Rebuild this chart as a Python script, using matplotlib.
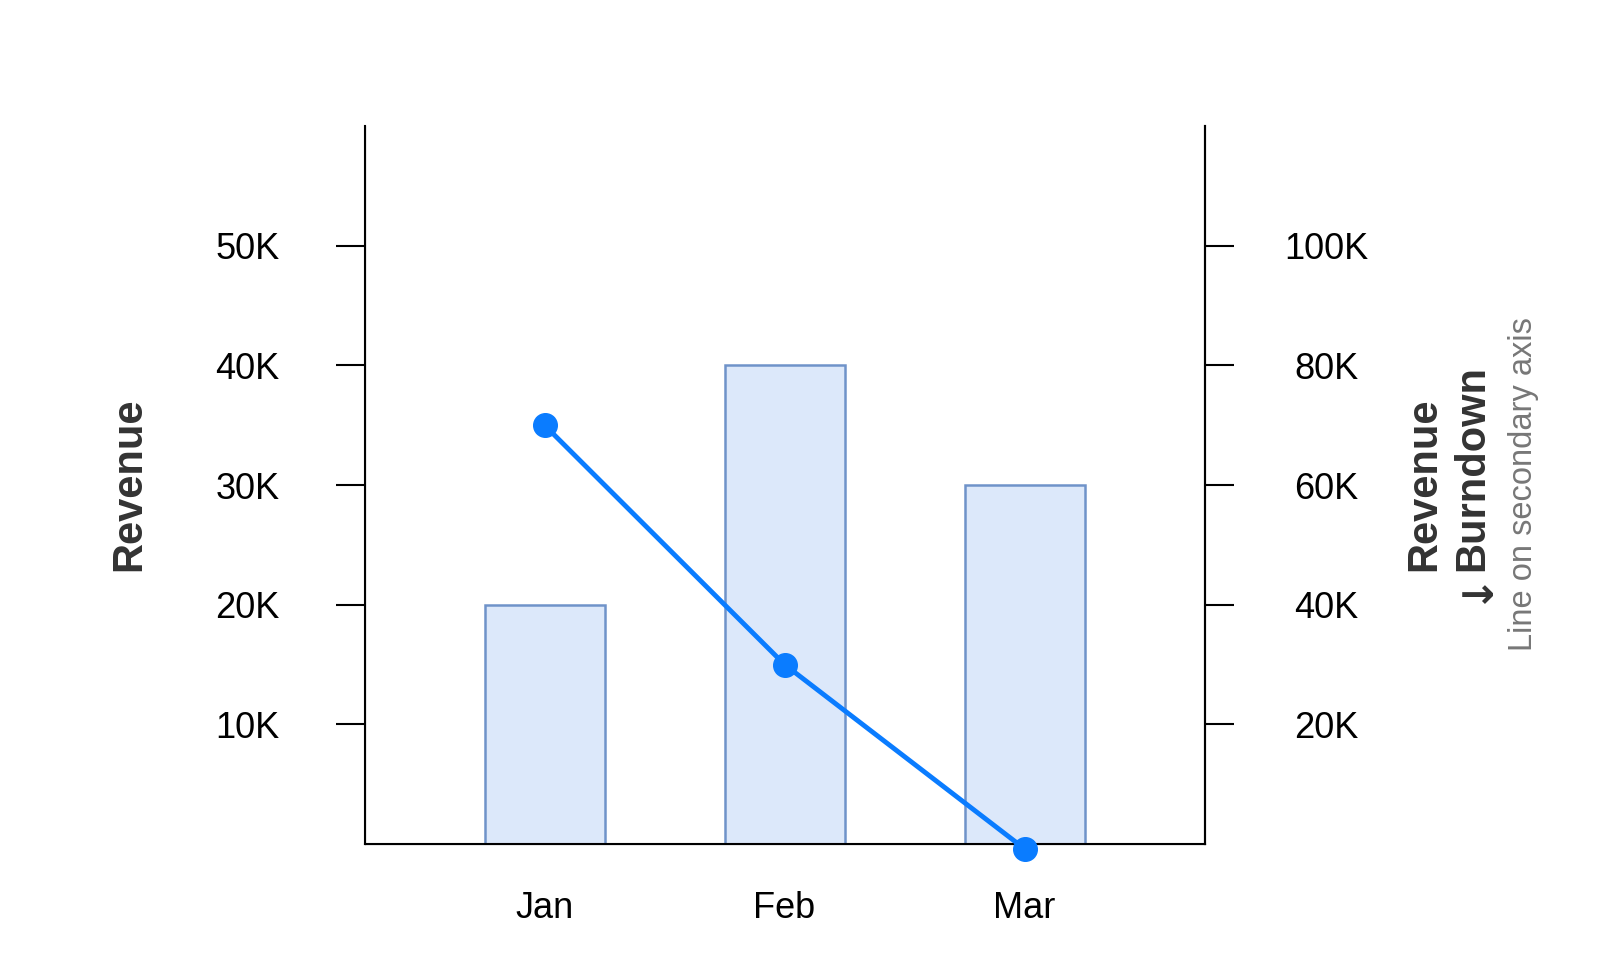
import matplotlib
matplotlib.use("Agg")
import matplotlib.pyplot as plt
from matplotlib.ticker import FuncFormatter

plt.rcParams["font.family"] = ["Liberation Sans", "DejaVu Sans"]

# data
months = ["Jan", "Feb", "Mar"]
revenue = [20000, 40000, 30000]          # bars, left axis
burndown = [70000, 30000, -800]          # line, right axis
left_ticks = [10000, 20000, 30000, 40000, 50000]
right_ticks = [20000, 40000, 60000, 80000, 100000]

BAR_FILL = "#dce8fa"
BAR_EDGE = "#6f93c9"
LINE_COLOR = "#0a7cff"
TITLE_COLOR = "#333333"


def k_fmt(v, _pos):
    return f"{int(v / 1000)}K"


fig = plt.figure(figsize=(16.24, 9.74), dpi=100)
ax = fig.add_axes([0.2245, 0.1335, 0.5172, 0.737])
x = list(range(len(months)))

ax.bar(x, revenue, width=0.5, color=BAR_FILL, edgecolor=BAR_EDGE, linewidth=1.8, zorder=2)
ax.set_xlim(-0.75, 2.75)
ax.set_ylim(0, 60000)
ax.set_xticks(x)
ax.set_xticklabels(months)
ax.set_yticks(left_ticks)
ax.yaxis.set_major_formatter(FuncFormatter(k_fmt))
ax.tick_params(axis="x", length=0, pad=34, labelsize=26)
ax.tick_params(axis="y", length=21, width=1.5, pad=40, labelsize=26)
ax.spines["top"].set_visible(False)
for side in ["left", "right", "bottom"]:
    ax.spines[side].set_linewidth(1.5)

# secondary axis for the burndown line
ax2 = ax.twinx()
ax2.plot(x, burndown, color=LINE_COLOR, linewidth=3.5, marker="o",
         markersize=17, clip_on=False, zorder=3)
ax2.set_ylim(0, 120000)
ax2.set_yticks(right_ticks)
ax2.yaxis.set_major_formatter(FuncFormatter(k_fmt))
ax2.tick_params(axis="y", length=21, width=1.5, pad=67, labelsize=26)
for lab in ax2.get_yticklabels():
    lab.set_horizontalalignment("center")
ax2.spines["top"].set_visible(False)
ax2.spines["right"].set_linewidth(1.5)

# axis titles
fig.text(129 / 1624, 1 - 484 / 974, "Revenue", rotation=90, ha="center", va="center",
         fontsize=30, fontweight="bold", color=TITLE_COLOR)
fig.text(1424 / 1624, 1 - 484 / 974, "Revenue", rotation=90, ha="center", va="center",
         fontsize=30, fontweight="bold", color=TITLE_COLOR)
fig.text(1472 / 1624, 1 - 468 / 974, "Burndown", rotation=90, ha="center", va="center",
         fontsize=30, fontweight="bold", color=TITLE_COLOR)
fig.text(1474 / 1624, 1 - 586 / 974, "\u2193", rotation=90, ha="center", va="center",
         fontsize=30, fontweight="bold", color=TITLE_COLOR, family="DejaVu Sans")
fig.text(1524 / 1624, 1 - 484 / 974, "Line on secondary axis", rotation=90, ha="center",
         va="center", fontsize=23.5, color="#777777")

fig.savefig("out.png", dpi=100)
